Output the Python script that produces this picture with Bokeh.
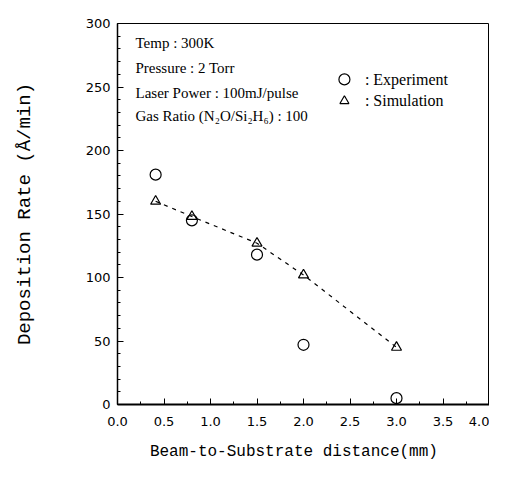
from bokeh.plotting import figure
from bokeh.models import Label, Range1d, FixedTicker
from bokeh.embed import file_html
from bokeh.resources import INLINE

# Data
distance = [0.41, 0.8, 1.5, 2.0, 3.0]
experiment = [181, 145, 118, 47, 5]
simulation = [160, 148, 127, 102, 45]
x_ticks = [0.0, 0.5, 1.0, 1.5, 2.0, 2.5, 3.0, 3.5, 4.0]
y_ticks = [0, 50, 100, 150, 200, 250, 300]
notes = ["Temp : 300K", "Pressure : 2 Torr", "Laser Power : 100mJ/pulse",
         "Gas Ratio (N\u2082O/Si\u2082H\u2086) : 100"]
legend_labels = [":  Experiment", ":  Simulation"]
legend_markers = ["circle", "triangle"]
legend_pos_y = [256, 239]

p = figure(width=489, height=465, output_backend="svg", toolbar_location=None,
           x_range=Range1d(0, 4), y_range=Range1d(0, 300),
           min_border_left=117, min_border_right=0, min_border_top=23,
           min_border_bottom=61)
p.grid.visible = False
p.outline_line_color = "black"
p.outline_line_width = 1
p.background_fill_color = "white"

for ax in (p.xaxis[0], p.yaxis[0]):
    ax.axis_line_color = "black"
    ax.axis_line_width = 1.5
    ax.major_tick_in = 6
    ax.major_tick_out = 0
    ax.minor_tick_in = 3
    ax.minor_tick_out = 0
    ax.major_label_text_font = "DejaVu Sans"
    ax.major_label_text_font_size = "13px"
    ax.major_label_text_color = "black"
    ax.axis_label_text_font = "Liberation Mono"
    ax.axis_label_text_font_style = "normal"
    ax.axis_label_text_color = "black"

p.xaxis.axis_line_width = 2
p.xaxis.ticker = FixedTicker(ticks=x_ticks,
                             minor_ticks=[i * 0.25 for i in range(17)])
p.yaxis.ticker = FixedTicker(ticks=y_ticks,
                             minor_ticks=list(range(0, 301, 10)))
p.xaxis.major_label_overrides = {t: f"{t:.1f}" for t in x_ticks}
p.xaxis.major_label_standoff = 12
p.yaxis.major_label_standoff = 7

p.yaxis.axis_label = "Deposition Rate (\u00c5/min)"
p.yaxis.axis_label_standoff = 47
p.yaxis.axis_label_text_font_size = "19px"

# trailing no-break spaces nudge the centred title left, as in the original
p.xaxis.axis_label = "Beam-to-Substrate distance(mm)" + "\u00a0" * 2
p.xaxis.axis_label_standoff = 14
p.xaxis.axis_label_text_font_size = "16px"

# Simulation dashed line + triangles
p.line(distance, simulation, line_color="black", line_dash="4 5", line_width=1.2)
p.scatter(distance, simulation, marker="triangle", size=10,
          fill_color=None, line_color="black", line_width=1.2)
# Experiment circles
p.scatter(distance, experiment, marker="circle", size=11,
          fill_color=None, line_color="black", line_width=1.2)

# Condition notes
note_y = [362, 337, 312, 289]
for i, t in enumerate(notes):
    p.add_layout(Label(x=18, y=note_y[i], x_units="screen",
                       y_units="screen", text=t, text_font="Liberation Serif",
                       text_font_size="15px", text_color="black",
                       text_baseline="middle"))

# Legend
for i, t in enumerate(legend_labels):
    p.scatter([2.44], [legend_pos_y[i]], marker=legend_markers[i],
              size=11 if i == 0 else 9, fill_color=None,
              line_color="black", line_width=1.2)
    p.add_layout(Label(x=2.66, y=legend_pos_y[i], x_units="data",
                       y_units="data", text=t, text_font="Liberation Serif",
                       text_font_size="16px", text_color="black",
                       text_baseline="middle"))

open("out.html", "w").write(file_html(p, INLINE))
